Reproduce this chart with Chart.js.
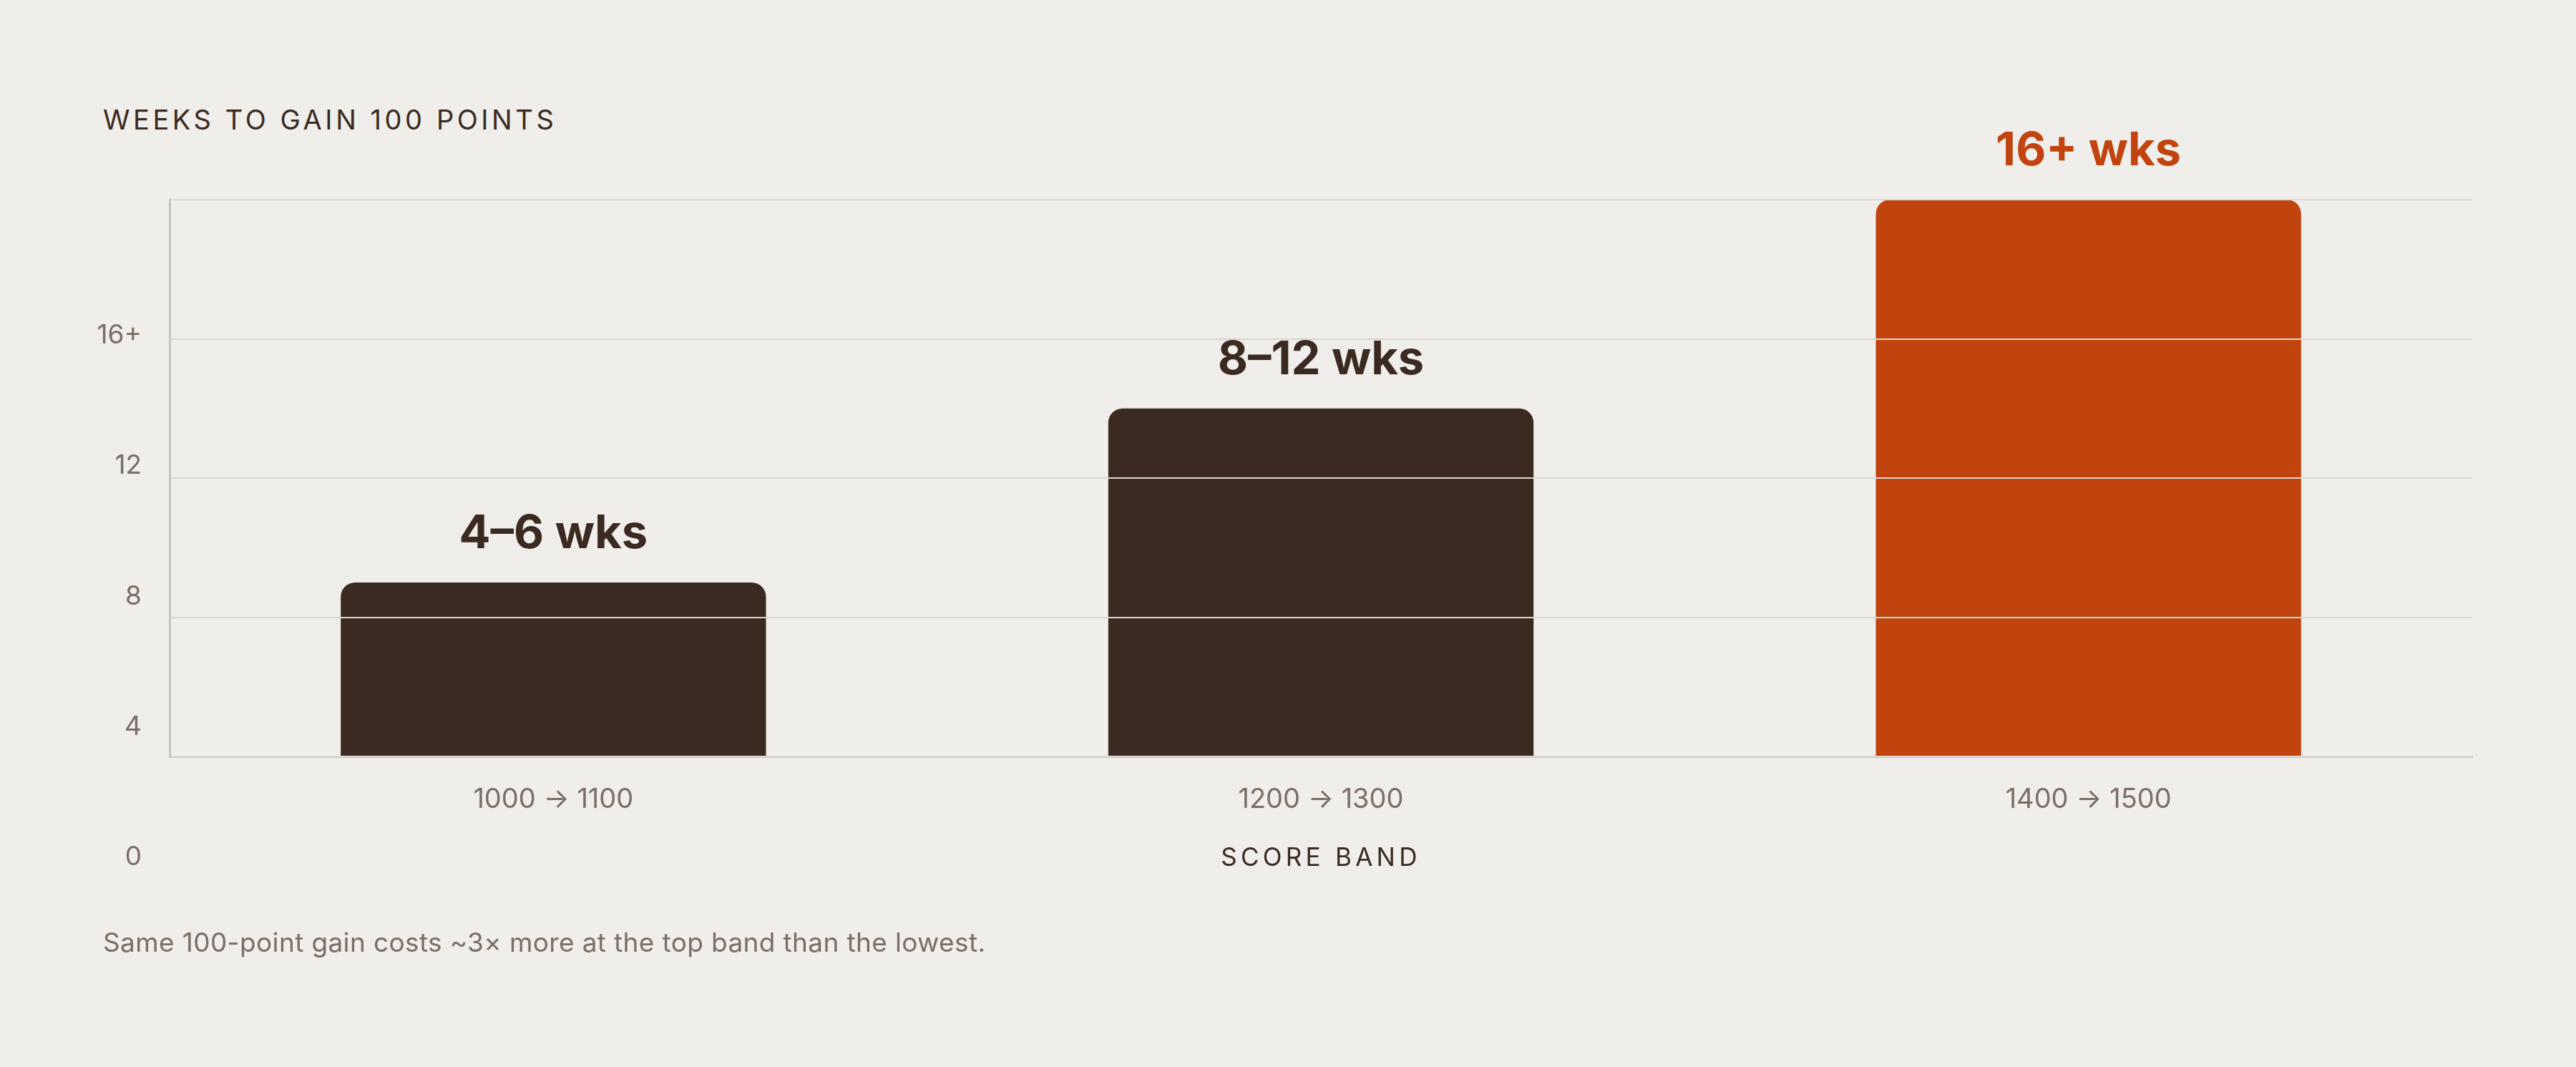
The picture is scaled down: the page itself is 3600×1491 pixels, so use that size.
<!DOCTYPE html>
<html>
<head>
<meta charset="utf-8">
<script src="https://cdn.jsdelivr.net/npm/chart.js@4.4.1/dist/chart.umd.min.js"></script>
<style>
  html, body { margin: 0; padding: 0; background: #efeeea; }
  body { width: 3600px; height: 1491px; position: relative; overflow: hidden; font-family: Inter, "Noto Sans", sans-serif; }
  #wrap { position: absolute; left: 0; top: 0; width: 3600px; height: 1491px; }
  .title { position: absolute; left: 144px; top: 148px; font-size: 38px; line-height: 1; letter-spacing: 0.12em; color: #3b2a21; white-space: nowrap; }
  .axis-title { position: absolute; left: 1846px; top: 1180px; transform: translateX(-50%); font-size: 35px; line-height: 1; letter-spacing: 0.15em; color: #3b2a21; white-space: nowrap; }
  .note { position: absolute; left: 144px; top: 1298px; font-size: 37px; line-height: 1; letter-spacing: 0.01em; color: #7a6e66; white-space: nowrap; }
</style>
</head>
<body>
<div class="title">WEEKS TO GAIN 100 POINTS</div>
<div id="wrap"><canvas id="chart"></canvas></div>
<div class="axis-title">SCORE BAND</div>
<div class="note">Same 100-point gain costs ~3× more at the top band than the lowest.</div>
<script>
const bands = ["1000 → 1100", "1200 → 1300", "1400 → 1500"];
const weeks = [5, 10, 16];
const weekLabels = ["4–6 wks", "8–12 wks", "16+ wks"];
const barColors = ["#3b2a21", "#3b2a21", "#c1440e"];
const yTicks = [0, 4, 8, 12, 16];
const yTickLabels = ["0", "4", "8", "12", "16+"];

const FONT = "Inter, 'Noto Sans', sans-serif";

// value labels above each bar
const barLabels = {
  id: "barLabels",
  afterDraw(chart) {
    const ctx = chart.ctx;
    const meta = chart.getDatasetMeta(0);
    ctx.save();
    ctx.font = `700 65px ${FONT}`;
    ctx.textAlign = "center";
    ctx.textBaseline = "alphabetic";
    meta.data.forEach((bar, i) => {
      ctx.fillStyle = barColors[i];
      ctx.fillText(weekLabels[i], bar.x, bar.y - 48);
    });
    ctx.restore();
  },
};

function setupChart() {
  const ctx = document.getElementById("chart");
  return new Chart(ctx, {
    type: "bar",
    data: {
      labels: bands,
      datasets: [
        {
          data: weeks,
          backgroundColor: barColors,
          borderRadius: 20,
          barPercentage: 0.554,
          categoryPercentage: 1,
        },
      ],
    },
    options: {
      responsive: true,
      maintainAspectRatio: false,
      animation: false,
      devicePixelRatio: 1,
      layout: { padding: { left: 0, right: 145, top: 279, bottom: 0 } },
      plugins: { legend: { display: false }, tooltip: { enabled: false } },
      scales: {
        x: {
          grid: { display: false, drawTicks: false },
          border: { color: "#c9c3bc", width: 3, z: 1 },
          ticks: { font: { family: FONT, size: 38 }, color: "#7a6e66", padding: 38 },
          afterFit: (s) => { s.height = 434; },
        },
        y: {
          min: 0,
          max: 16,
          weight: 0,
          ticks: { display: false, stepSize: 4 },
          grid: { color: "#dcd7d0", lineWidth: 2, drawTicks: false, z: 1 },
          border: { color: "#c9c3bc", width: 3, z: 1 },
          afterFit: (s) => { s.width = 0; },
        },
        // tick labels sit on their own axis, spaced a little tighter than the grid
        yLabels: {
          position: "left",
          weight: 1,
          min: 3.094,
          max: 20.17,
          grid: { display: false, drawTicks: false },
          border: { display: false },
          afterBuildTicks: (s) => { s.ticks = yTicks.map((v) => ({ value: v })); },
          ticks: {
            autoSkip: false,
            padding: 39,
            color: "#7a6e66",
            font: { family: FONT, size: 37 },
            callback: (value) => yTickLabels[yTicks.indexOf(value)],
          },
          afterFit: (s) => { s.width = 237; },
        },
      },
    },
    plugins: [barLabels],
  });
}

window.addEventListener("DOMContentLoaded", () => {
  setupChart();
});
</script>
</body>
</html>
